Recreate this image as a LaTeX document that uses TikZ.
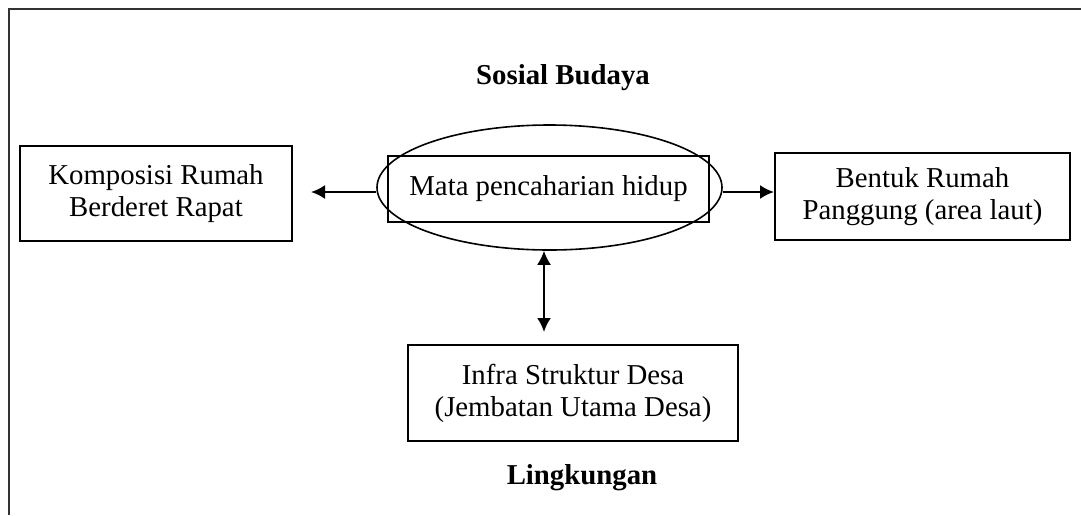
\documentclass[tikz,border=0pt]{standalone}
\usepackage{fontspec}
\setmainfont{Liberation Serif}
\usetikzlibrary{arrows.meta,shapes.geometric}

\newcommand{\teks}{\fontsize{14.4}{16}\selectfont}
\tikzset{
  kotak/.style={draw, line width=1pt, align=center, inner sep=0pt, font=\teks},
  judul/.style={font=\teks\bfseries, inner sep=0pt},
  panah/.style={line width=1pt, -{Latex[length=7pt,width=7pt]}},
  panahdua/.style={line width=1pt, {Latex[length=7pt,width=7pt]}-{Latex[length=7pt,width=7pt]}},
}

\begin{document}
\begin{tikzpicture}[x=0.5pt,y=-0.5pt]
  \useasboundingbox (0,0) rectangle (1081,515);
  % bingkai
  \draw[line width=1.2pt, black!80] (9,515) -- (9,9) -- (1081,9);
  % judul
  \node[judul] (sosial) at (563,78) {Sosial Budaya};
  \node[judul] (lingkungan) at (582,478) {Lingkungan};
  % kotak-kotak
  \node[kotak, minimum width=136pt, minimum height=47.5pt] (kiri) at (156,193.5) {Komposisi Rumah\\Berderet Rapat};
  \node[kotak, minimum width=160.5pt, minimum height=33pt] (mata) at (548.5,189) {Mata pencaharian hidup};
  \node[draw, ellipse, line width=0.8pt, minimum width=172.5pt, minimum height=62.5pt, inner sep=0pt] (ell) at (549.5,187.5) {};
  \node[kotak, minimum width=147.5pt, minimum height=43.5pt] (kanan) at (922.5,196.5) {Bentuk Rumah\\Panggung (area laut)};
  \node[kotak, minimum width=165pt, minimum height=48pt] (bawah) at (573,393) {Infra Struktur Desa\\(Jembatan Utama Desa)};
  % panah
  \coordinate (sumbu) at (0,192);
  \coordinate (tegak) at (544,0);
  \draw[panah, shorten >=9pt] (ell.west |- sumbu) -- (kiri.east |- sumbu);
  \draw[panah] (ell.east |- sumbu) -- (kanan.west |- sumbu);
  \draw[panahdua, shorten >=6pt] (ell.south -| tegak) -- (bawah.north -| tegak);
\end{tikzpicture}
\end{document}
